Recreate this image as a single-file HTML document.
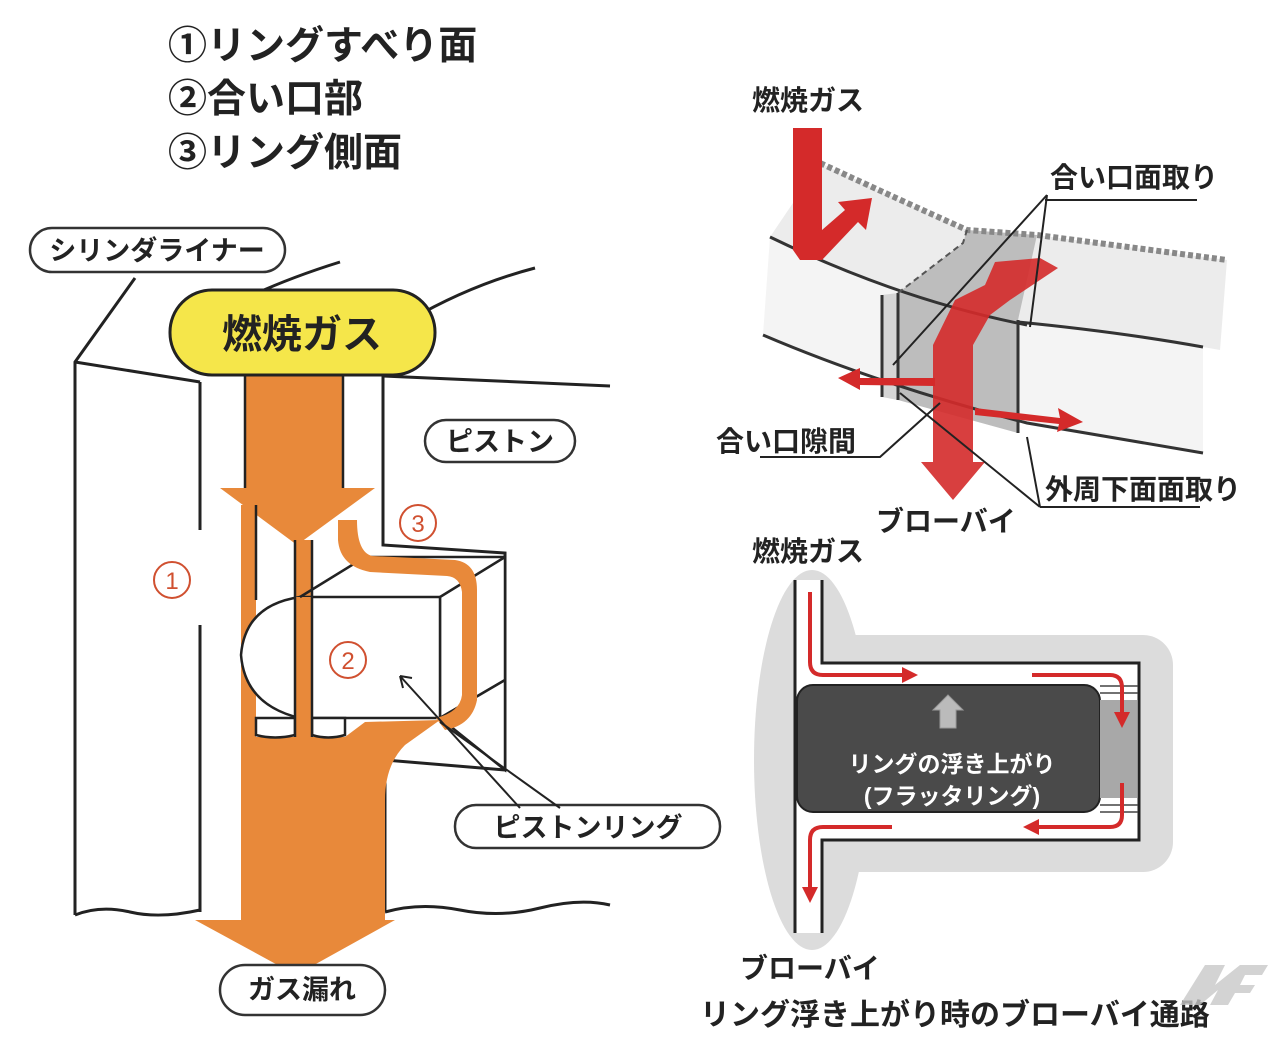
<!DOCTYPE html>
<html><head><meta charset="utf-8"><style>
html,body{margin:0;padding:0;background:#fff;}
svg{display:block;}
text{font-family:"Liberation Sans","Noto Sans CJK JP",sans-serif;font-weight:bold;fill:#222;}
</style></head><body>
<svg width="1279" height="1043" viewBox="0 0 1279 1043" xmlns="http://www.w3.org/2000/svg">
<rect width="1279" height="1043" fill="#fff"/>
<text x="168" y="59" font-size="39">①リングすべり面</text>
<text x="168" y="112" font-size="39">②合い口部</text>
<text x="168" y="166" font-size="39">③リング側面</text>

<!-- LEFT DIAGRAM -->
<g stroke="#222" stroke-width="3" fill="none">
  <path d="M188 330 Q250 290 340 262"/>
  <path d="M410 320 Q470 285 535 268"/>
  <path d="M135 278 L75 362 L75 915"/>
  <path d="M75 362 L200 382"/>
  <path d="M200 382 L200 530 M200 625 L200 912"/>
  <path d="M75 915 Q100 905 130 912 T200 910"/>
  <path d="M383 376 L610 386"/>
  <path d="M383 376 L383 545 L505 553 L505 770 L385 760 L385 912"/>
  <path d="M385 912 Q420 902 460 910 T540 908 T610 905"/>
</g>
<g fill="#e8893a">
  <path d="M245 376 L343 376 L343 488 L375 488 L297 545 L220 488 L245 488 Z"/>
  <path d="M241 505 L256 505 L256 737 L295 737 L295 540 L312 540 L312 737 L345 737 L365 722 L440 720 L405 745 Q385 765 385 800 L385 920 L395 920 L296 975 L195 920 L241 920 Z"/>
</g>
<g stroke="#222" stroke-width="2.5" fill="#fff">
  <path d="M440 597 L505 557 L505 680 L440 718 Z"/>
  <path d="M440 718 L505 680 L505 770 Z"/>
  <path d="M300 597 L440 597 L440 718 L300 718 Q245 705 241 655 Q245 605 300 597 Z"/>
  <path d="M256 718 L295 718 L295 735 Q275 740 256 735 Z"/>
  <path d="M312 718 L345 718 L345 735 Q328 740 312 735 Z"/>
</g>
<path d="M295 597 L312 597 L312 737 L295 737 Z" fill="#e8893a"/>
<g stroke="#222" stroke-width="2.5" fill="none">
  <path d="M256 505 L256 600 M295 540 L295 737 M312 540 L312 737"/>
  <path d="M300 597 L365 557 L505 557"/>
  <path d="M245 376 L245 488 M343 376 L343 488"/>
</g>
<!-- ③ band on top -->
<path d="M338 520 L357 520 Q357 552 372 556 L455 560 Q477 563 477 590 L477 700 Q472 725 445 730 L436 718 Q460 712 462 695 L462 592 Q460 577 447 576 L370 572 Q340 566 338 540 Z" fill="#e8893a"/>
<!-- labels left -->
<rect x="30" y="228" width="255" height="44" rx="22" fill="#fff" stroke="#333" stroke-width="2.5"/>
<text x="157" y="260" font-size="27" text-anchor="middle">シリンダライナー</text>
<rect x="170" y="290" width="265" height="85" rx="42" fill="#f5e64a" stroke="#222" stroke-width="3"/>
<text x="302" y="348" font-size="40" text-anchor="middle">燃焼ガス</text>
<rect x="425" y="420" width="150" height="42" rx="21" fill="#fff" stroke="#333" stroke-width="2.5"/>
<text x="500" y="451" font-size="27" text-anchor="middle">ピストン</text>
<rect x="455" y="805" width="265" height="43" rx="21" fill="#fff" stroke="#333" stroke-width="2.5"/>
<text x="588" y="837" font-size="27" text-anchor="middle">ピストンリング</text>
<rect x="220" y="965" width="165" height="50" rx="25" fill="#fff" stroke="#333" stroke-width="2.5"/>
<text x="302" y="999" font-size="27" text-anchor="middle">ガス漏れ</text>
<g stroke="#222" stroke-width="2" fill="none">
  <path d="M520 808 L400 676"/><path d="M400 676 L412 678 M400 676 L403 688"/>
  <path d="M560 808 L440 722"/>
</g>
<g fill="none" stroke="#d05030" stroke-width="2">
  <circle cx="172" cy="580" r="18"/><circle cx="348" cy="660" r="18"/><circle cx="418" cy="523" r="18"/>
</g>
<g font-size="24" text-anchor="middle">
<text x="172" y="589" style="fill:#d05030;font-weight:normal">1</text>
<text x="348" y="669" style="fill:#d05030;font-weight:normal">2</text>
<text x="418" y="532" style="fill:#d05030;font-weight:normal">3</text>
</g>

<!-- RIGHT TOP DIAGRAM -->
<path d="M820 163 Q900 200 967 230 L1037 235 L1227 260 L1220 350 L1203 347 Q1100 330 1027 325 Q900 300 770 237 Z" fill="#ececec"/>
<path d="M763 335 Q880 385 1027 423 L1203 453 L1203 347 Q1100 330 1027 325 Q900 300 770 237 Z" fill="#f4f4f4"/>
<path d="M898 293 L963 243 L967 230 L1037 235 L1018 320 L1018 433 L898 400 Z" fill="#bdbdbd"/>
<path d="M882 295 L898 293 L898 400 L882 397 Z" fill="#d5d5d5"/>
<path d="M820 163 Q900 200 967 230 L1037 235 L1227 260" fill="none" stroke="#888" stroke-width="6" stroke-dasharray="5 3"/>
<g stroke="#333" stroke-width="3" fill="none">
  <path d="M770 237 Q900 300 1027 325"/>
  <path d="M1018 322 Q1120 332 1203 347"/>
  <path d="M763 335 Q880 385 1027 423 L1203 453"/>
  <path d="M882 295 L882 397 M898 293 L898 400 M1018 320 L1018 433"/>
</g>
<path d="M898 293 L963 243 L967 230" fill="none" stroke="#555" stroke-width="2" stroke-dasharray="6 4"/>
<g fill="#d42a2a">
  <path d="M793 128 L822 128 L822 230 L845 210 L838 202 L872 198 L866 230 L858 222 L822 260 L800 260 L793 250 Z"/>
  <path d="M933 345 L955 300 L985 285 L995 262 L1040 258 L1058 268 L1010 300 L990 315 L973 345 L973 462 L985 462 L953 500 L921 462 L933 462 Z" opacity="0.9"/>
  <path d="M935 378 L860 378 L860 368 L838 378 L860 390 L860 385 L935 386 Z"/>
  <path d="M975 408 L1060 418 L1058 408 L1083 422 L1057 432 L1059 424 L975 415 Z"/>
</g>
<g stroke="#222" stroke-width="2" fill="none">
  <path d="M1047 195 L893 365 M1047 195 L1030 327 M1045 200 L1197 200"/>
  <path d="M760 457 L880 457 L940 403"/>
  <path d="M1040 507 L1200 507 M1040 507 L900 393 M1040 507 L1027 437"/>
</g>
<text x="752" y="110" font-size="28">燃焼ガス</text>
<text x="1050" y="187" font-size="28">合い口面取り</text>
<text x="716" y="451" font-size="28">合い口隙間</text>
<text x="1045" y="499" font-size="28">外周下面面取り</text>
<text x="876" y="531" font-size="28">ブローバイ</text>

<!-- RIGHT BOTTOM DIAGRAM -->
<ellipse cx="812" cy="760" rx="58" ry="190" fill="#dcdcdc"/>
<rect x="820" y="635" width="353" height="237" rx="30" fill="#dcdcdc"/>
<rect x="795" y="580" width="27" height="353" fill="#fff"/>
<rect x="822" y="663" width="317" height="177" fill="#fff"/>
<g stroke="#222" stroke-width="3" fill="none">
  <path d="M795 580 L795 933 M822 580 L822 663 L1139 663 L1139 840 L822 840 L822 933"/>
</g>
<rect x="797" y="685" width="303" height="127" rx="16" fill="#4a4a4a" stroke="#222" stroke-width="2"/>
<rect x="1100" y="700" width="37" height="98" fill="#a8a8a8"/>
<path d="M1100 686 L1138 686 M1100 693 L1138 693 M1100 805 L1138 805 M1100 812 L1138 812" stroke="#444" stroke-width="1.5"/>
<path d="M948 695 L963 710 L956 710 L956 728 L940 728 L940 710 L933 710 Z" fill="#bbb" stroke="#999"/>
<text x="952" y="772" font-size="23" text-anchor="middle" style="fill:#fff">リングの浮き上がり</text>
<text x="952" y="804" font-size="23" text-anchor="middle" style="fill:#fff">(フラッタリング)</text>
<g stroke="#d42a2a" stroke-width="4" fill="none">
  <path d="M810 592 L810 662 Q810 675 823 675 L905 675"/>
  <path d="M1032 675 L1110 675 Q1122 675 1122 688 L1122 715"/>
  <path d="M1122 783 L1122 815 Q1122 827 1110 827 L1036 827"/>
  <path d="M892 827 L823 827 Q810 827 810 840 L810 890"/>
</g>
<g fill="#d42a2a">
  <path d="M918 675 L902 667 L902 683 Z"/>
  <path d="M1122 728 L1114 712 L1130 712 Z"/>
  <path d="M1023 827 L1039 819 L1039 835 Z"/>
  <path d="M810 903 L802 887 L818 887 Z"/>
</g>
<text x="752" y="561" font-size="28">燃焼ガス</text>
<text x="740" y="978" font-size="28">ブローバイ</text>
<text x="700" y="1025" font-size="30">リング浮き上がり時のブローバイ通路</text>
<path d="M1180 1005 L1205 965 L1225 965 L1215 985 L1240 965 L1268 965 L1262 975 L1245 975 L1240 985 L1255 985 L1250 993 L1235 993 L1228 1005 L1210 1005 L1218 990 L1200 1005 Z" fill="#c8c8c8" opacity="0.8"/>
</svg>
</body></html>
